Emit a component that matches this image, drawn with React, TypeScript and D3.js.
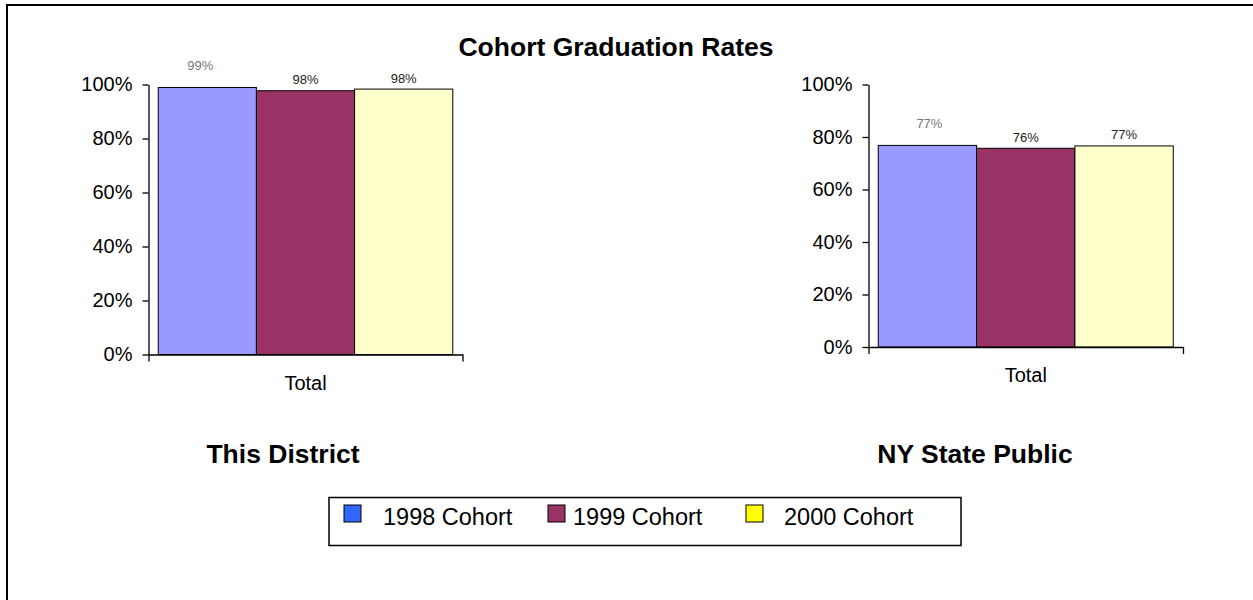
import React, { useEffect, useRef } from 'react';
import * as d3 from 'd3';

const categories = ['Total'];
const cohorts = ['1998 Cohort', '1999 Cohort', '2000 Cohort'];
const districtRates = [0.989, 0.977, 0.983];
const stateRates = [0.768, 0.757, 0.766];
const yTicks = [0, 0.2, 0.4, 0.6, 0.8, 1];
const panelNames = ['This District', 'NY State Public'];

const barColors = ['#9999FF', '#993366', '#FFFFCC'];
const legendColors = ['#3366FF', '#993366', '#FFFF00'];
const FONT = 'Arial, "Liberation Sans", sans-serif';

interface Panel {
  values: number[];
  left: number;
  right: number;
  top: number;
  bottom: number;
  nameX: number;
  firstLabelShift: number;
}

const App: React.FC = () => {
  const svgRef = useRef<SVGSVGElement>(null);

  useEffect(() => {
    if (!svgRef.current) return;
    const svg = d3.select(svgRef.current);
    svg.selectAll('*').remove();

    // outer frame (only top and left edges are visible)
    svg.append('path')
      .attr('d', 'M7,600V5H1253')
      .attr('fill', 'none')
      .attr('stroke', '#000')
      .attr('stroke-width', 2);

    svg.append('text')
      .attr('x', 616)
      .attr('y', 56)
      .attr('text-anchor', 'middle')
      .attr('font-family', FONT)
      .attr('font-weight', 'bold')
      .attr('font-size', 26.5)
      .text('Cohort Graduation Rates');

    const panels: Panel[] = [
      { values: districtRates, left: 148.5, right: 462.5, top: 84.5, bottom: 354.5, nameX: 283, firstLabelShift: -7 },
      { values: stateRates, left: 868.5, right: 1183, top: 84.5, bottom: 347, nameX: 975, firstLabelShift: 2 }
    ];

    panels.forEach((p, pi) => {
      const g = svg.append('g');

      const x = d3.scaleBand()
        .domain(categories)
        .range([p.left, p.right])
        .paddingOuter(0.033);

      const xs = d3.scaleBand()
        .domain(cohorts)
        .range([0, x.bandwidth()]);

      const y = d3.scaleLinear()
        .domain([0, 1])
        .range([p.bottom, p.top]);

      const rows = p.values.map((v, i) => ({ v, name: cohorts[i], i }));

      // bars
      const grp = g.selectAll('.grp')
        .data(categories)
        .enter()
        .append('g')
        .attr('transform', d => `translate(${x(d)},0)`);

      grp.selectAll('rect')
        .data(rows)
        .enter()
        .append('rect')
        .attr('x', d => xs(d.name) || 0)
        .attr('y', d => y(d.v))
        .attr('width', xs.bandwidth())
        .attr('height', d => p.bottom - y(d.v))
        .attr('fill', d => barColors[d.i])
        .attr('stroke', '#000')
        .attr('stroke-width', 1);

      // value labels (first series label sits higher, in grey)
      grp.selectAll('.lbl')
        .data(rows)
        .enter()
        .append('text')
        .attr('x', d => (xs(d.name) || 0) + xs.bandwidth() / 2 + (d.i === 0 ? p.firstLabelShift : 0))
        .attr('y', d => y(d.v) - (d.i === 0 ? 17 : 6.5))
        .attr('text-anchor', 'middle')
        .attr('font-family', FONT)
        .attr('font-size', 13)
        .attr('fill', d => (d.i === 0 ? '#777' : '#222'))
        .text(d => d3.format('.0%')(d.v));

      // axes
      const yAxis = d3.axisLeft(y)
        .tickValues(yTicks)
        .tickFormat(d3.format('.0%'))
        .tickSizeInner(6)
        .tickSizeOuter(0)
        .tickPadding(10);

      const ya = g.append('g')
        .attr('transform', `translate(${p.left},0)`)
        .call(yAxis);
      ya.selectAll('text')
        .attr('font-family', FONT)
        .attr('font-size', 20)
        .attr('fill', '#000');
      ya.selectAll('line,path').attr('stroke', '#000').attr('stroke-width', 1.3);

      const xAxis = d3.axisBottom(x)
        .tickSizeInner(0)
        .tickSizeOuter(7)
        .tickPadding(21);

      const xa = g.append('g')
        .attr('transform', `translate(0,${p.bottom})`)
        .call(xAxis);
      xa.selectAll('text')
        .attr('font-family', FONT)
        .attr('font-size', 20)
        .attr('fill', '#000');
      xa.selectAll('line,path').attr('stroke', '#000').attr('stroke-width', 1.3);

      svg.append('text')
        .attr('x', p.nameX)
        .attr('y', 463)
        .attr('text-anchor', 'middle')
        .attr('font-family', FONT)
        .attr('font-weight', 'bold')
        .attr('font-size', 26.5)
        .text(panelNames[pi]);
    });

    // legend
    const lg = svg.append('g');
    lg.append('rect')
      .attr('x', 329)
      .attr('y', 497.5)
      .attr('width', 632)
      .attr('height', 48)
      .attr('fill', '#fff')
      .attr('stroke', '#000')
      .attr('stroke-width', 1.5);

    const swatchX = [344, 548, 746];
    const textX = [383, 573, 784];
    cohorts.forEach((c, i) => {
      lg.append('rect')
        .attr('x', swatchX[i])
        .attr('y', 505)
        .attr('width', 17)
        .attr('height', 17)
        .attr('fill', legendColors[i])
        .attr('stroke', '#000')
        .attr('stroke-width', 1);
      lg.append('text')
        .attr('x', textX[i])
        .attr('y', 525)
        .attr('font-family', FONT)
        .attr('font-size', 23.5)
        .text(c);
    });
  }, []);

  return (
    <svg
      ref={svgRef}
      width={1253}
      height={600}
      style={{ position: 'absolute', left: 0, top: 0, background: '#fff' }}
    />
  );
};

export default App;
